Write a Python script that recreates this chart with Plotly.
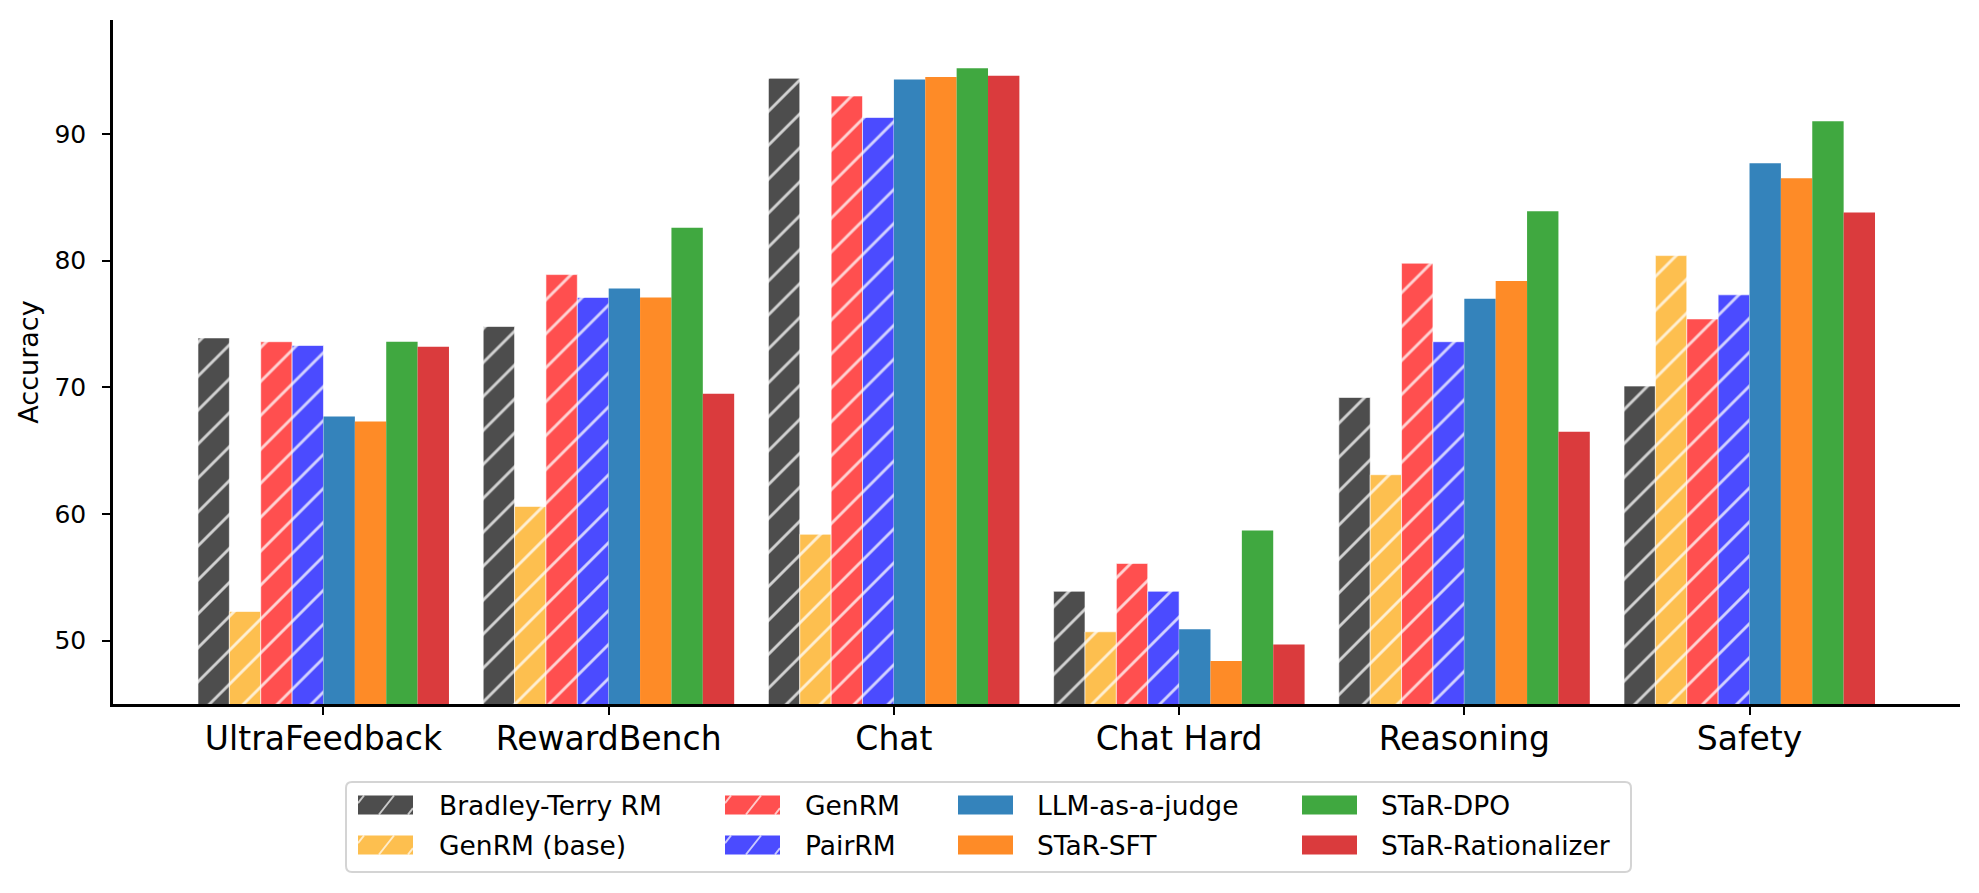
import plotly.graph_objects as go

# ---------------- data ----------------
categories = ["UltraFeedback", "RewardBench", "Chat", "Chat Hard", "Reasoning", "Safety"]
series_names = ["Bradley-Terry RM", "GenRM (base)", "GenRM", "PairRM",
                "LLM-as-a-judge", "STaR-SFT", "STaR-DPO", "STaR-Rationalizer"]
bradley_terry = [73.9, 74.8, 94.4, 53.9, 69.2, 70.1]
genrm_base = [52.3, 60.6, 58.4, 50.7, 63.1, 80.4]
genrm = [73.6, 78.9, 93.0, 56.1, 79.8, 75.4]
pairrm = [73.3, 77.1, 91.3, 53.9, 73.6, 77.3]
llm_judge = [67.7, 77.8, 94.3, 50.9, 77.0, 87.7]
star_sft = [67.3, 77.1, 94.5, 48.4, 78.4, 86.5]
star_dpo = [73.6, 82.6, 95.2, 58.7, 83.9, 91.0]
star_rationalizer = [73.2, 69.5, 94.6, 49.7, 66.5, 83.8]
y_ticks = [50, 60, 70, 80, 90]

series_values = [bradley_terry, genrm_base, genrm, pairrm,
                 llm_judge, star_sft, star_dpo, star_rationalizer]

# ---------------- styles ----------------
colors = ["#4d4d4d", "#fdbf4f", "#ff4f4f", "#4b4bff",
          "#3483bb", "#fe8b27", "#40a840", "#da3b3d"]
hatched = [True, True, True, True, False, False, False, False]
FONT = "DejaVu Sans"

PAGE_W, PAGE_H = 1979, 893
OFF = 8  # default page body margin
W, H = PAGE_W - OFF, PAGE_H - OFF
L, R, T, B = 113, 1960, 20, 704  # plot area in page pixels


def px(xp):
    return (xp - L) / (R - L)


def py(yp):
    return (B - yp) / (B - T)


fig = go.Figure()
for name, vals, col, hat in zip(series_names, series_values, colors, hatched):
    marker = dict(color=col)
    if hat:
        marker["pattern"] = dict(shape="/", size=24, solidity=0.12,
                                 fgcolor="white", fgopacity=0.75,
                                 bgcolor=col, fillmode="overlay")
        marker["line"] = dict(width=1, color="rgba(255,255,255,0.6)")
    else:
        marker["line"] = dict(width=0)
    fig.add_trace(go.Bar(x=categories, y=vals, name=name, marker=marker,
                         showlegend=False))

fig.update_layout(
    width=W, height=H,
    margin=dict(l=L - OFF, r=PAGE_W - R, t=T - OFF, b=PAGE_H - B, autoexpand=False),
    paper_bgcolor="white", plot_bgcolor="white",
    barmode="group", bargap=0.12, bargroupgap=0,
    font=dict(family=FONT, color="black"),
    showlegend=False,
)
fig.update_xaxes(
    type="category", range=[-0.738, 5.738], automargin=False,
    showline=True, linecolor="black", linewidth=2.5,
    ticks="outside", ticklen=8, tickwidth=2, tickcolor="black",
    tickfont=dict(family=FONT, size=33, color="black"),
    ticklabelstandoff=-4,
    showgrid=False, zeroline=False,
)
fig.update_yaxes(
    range=[45, 99], tickvals=y_ticks, automargin=False,
    showline=True, linecolor="black", linewidth=2.5,
    ticks="outside", ticklen=8, tickwidth=2, tickcolor="black",
    tickfont=dict(family=FONT, size=25, color="black"),
    ticklabelstandoff=11,
    showgrid=False, zeroline=False,
    title=dict(text="Accuracy", font=dict(family=FONT, size=27, color="black"),
               standoff=8),
)

# ---------------- custom legend (matplotlib-like, 4 columns x 2 rows) -------
shapes = []
annotations = []

# rounded frame
fx0, fx1, fy0, fy1, rad = 346, 1631, 782, 872, 6
rx = rad / (R - L)
ry = rad / (B - T)
X0, X1, Y0, Y1 = px(fx0), px(fx1), py(fy0), py(fy1)  # Y0 top, Y1 bottom
path = (f"M{X0 + rx},{Y0} L{X1 - rx},{Y0} Q{X1},{Y0} {X1},{Y0 - ry} "
        f"L{X1},{Y1 + ry} Q{X1},{Y1} {X1 - rx},{Y1} "
        f"L{X0 + rx},{Y1} Q{X0},{Y1} {X0},{Y1 + ry} "
        f"L{X0},{Y0 - ry} Q{X0},{Y0} {X0 + rx},{Y0} Z")
shapes.append(dict(type="path", xref="paper", yref="paper", path=path,
                   line=dict(color="#d4d4d4", width=2), fillcolor="white",
                   layer="above"))

col_swatch_x = [358, 725, 958, 1302]
col_text_x = [437, 803, 1035, 1379]
row_center_y = [805, 845]
sw_w, sw_h = 55, 19
# matplotlib fills legend columns first
legend_pos = [(0, 0), (0, 1), (1, 0), (1, 1), (2, 0), (2, 1), (3, 0), (3, 1)]


def clip_segment(xb, dx, w, h):
    # line from (xb, 0) [bottom] to (xb+dx, h) [top]; clip to 0..w
    xa, ya, xc, yc = xb, 0.0, xb + dx, h
    if xc < 0 or xa > w:
        return None
    if xa < 0:
        t = (0 - xa) / dx
        xa, ya = 0.0, t * h
    if xc > w:
        t = (w - xb) / dx
        xc, yc = w, t * h
    return xa, ya, xc, yc


for name, col, hat, (c, r) in zip(series_names, colors, hatched, legend_pos):
    sx = col_swatch_x[c]
    cy = row_center_y[r]
    top, bot = cy - sw_h / 2, cy + sw_h / 2
    shapes.append(dict(type="rect", xref="paper", yref="paper",
                       x0=px(sx), x1=px(sx + sw_w), y0=py(bot), y1=py(top),
                       fillcolor=col, line=dict(width=0), layer="above"))
    if hat:
        for xb in (-9, 21, 50):
            seg = clip_segment(xb, 15, sw_w, sw_h)
            if seg is None:
                continue
            xa, ya, xc, yc = seg
            shapes.append(dict(type="line", xref="paper", yref="paper",
                               x0=px(sx + xa), y0=py(bot - ya),
                               x1=px(sx + xc), y1=py(bot - yc),
                               line=dict(color="rgba(255,255,255,0.7)", width=2),
                               layer="above"))
    annotations.append(dict(text=name, xref="paper", yref="paper",
                            x=px(col_text_x[c]), y=py(cy),
                            xanchor="left", yanchor="middle", showarrow=False,
                            font=dict(family=FONT, size=26.5, color="black")))

fig.update_layout(shapes=shapes, annotations=annotations)

fig.write_html("out.html")
